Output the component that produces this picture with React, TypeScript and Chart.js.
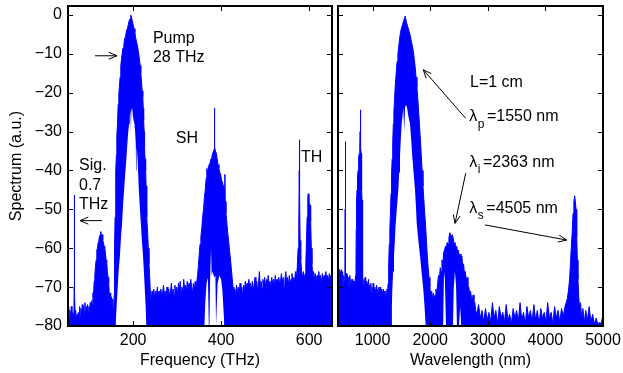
import React, { useEffect, useRef } from "react";
import { Chart, registerables } from "chart.js";

Chart.register(...registerables);

type Pt = [number, number];

// ---------------- Left panel: spectrum vs frequency (THz) ----------------
const freqTicks = [200, 400, 600];
const dbTicks = [0, -10, -20, -30, -40, -50, -60, -70, -80];

const sigFloorFreq: Pt[] = [
  [52, -76.5], [53.5, -75], [55, -78], [56.5, -76], [58, -77.5], [59.5, -75], [61, -78], [62.5, -76.5],
  [64, -77], [65.5, -75.5], [66.1, -70], [66.5, -46.3], [66.9, -71], [68, -76], [69.5, -77.5], [71, -78.5],
  [72.5, -77], [74, -78], [75.5, -76.5], [77, -78], [78.5, -75], [80, -77.5], [81.5, -75.5], [83, -77],
  [84.5, -74.5], [86, -77], [87.5, -75], [89, -76.5], [90.5, -74], [92, -76.5], [93.5, -75], [95, -77],
  [96.5, -74.5], [98, -76.5], [99.5, -75], [101, -76], [102.5, -74], [104, -75.5], [105.5, -73.5], [107, -74.5],
  [108.5, -71.5], [110, -72], [111.5, -68.5], [113, -67], [114.5, -64.5], [116, -63], [117.5, -60.5], [119, -60],
  [120.5, -58.5], [122, -58], [123.5, -57], [125, -56.5], [126.5, -55.7], [128, -57], [129.5, -56.5], [131, -58],
  [132.5, -58.5], [134, -59.5], [135.5, -60], [137, -61], [138.5, -63], [140, -63.5], [141.5, -66], [143, -67.5],
  [144.5, -69], [146, -72], [147.5, -71.5], [149, -74], [150.5, -72.5], [152, -75], [153.5, -73], [155, -75.5],
  [156.5, -74],
];

const pumpFreq: Pt[] = [
  [157, -72], [157.5, -66], [158, -60], [159, -52], [160, -45], [161, -40], [162, -36], [163, -31],
  [164.5, -28], [166, -23], [167.5, -20.5], [169, -18], [170.5, -16], [172, -13], [173.5, -11.5], [175, -10],
  [177, -8.5], [179, -7.5], [181, -6], [183, -5.5], [185, -4], [187, -3.5], [189, -2.5], [191, -1.5],
  [193, -1], [194.5, 0], [196, -0.5], [198, -1.5], [200, -2.5], [202, -3.5], [204, -4.5], [206, -6],
  [208, -7], [210, -8], [212, -9.5], [214, -11], [216, -13], [217.5, -15], [219, -17], [220.5, -19.5],
  [222, -21], [223, -24], [224, -27], [225, -30], [226, -34], [227, -37], [228.5, -40], [229.5, -44],
  [230.5, -48], [231.5, -52], [233, -56], [234.5, -60], [236, -64], [237.5, -67], [239, -71],
];

const floorMidFreq: Pt[] = [
  [241, -73.5], [243, -71], [245, -72.5], [247, -70.5], [249, -73], [251, -71], [253, -72], [255, -70],
  [257, -72.5], [259, -71], [261, -73], [263, -70.5], [265, -72], [267, -71.5], [269, -69.5], [271, -72],
  [273, -71], [275, -73], [277, -70], [279, -72], [281, -70.5], [283, -72.5], [285, -71], [287, -69],
  [289, -72], [291, -70.5], [293, -72], [295, -69.5], [297, -71.5], [299, -70], [301, -72], [303, -69],
  [305, -71], [307, -68.5], [309, -71], [311, -70], [313, -72], [315, -68], [317, -70.5], [319, -69.5],
  [321, -71.5], [323, -68.5], [325, -70.5], [327, -69], [329, -71], [331, -68], [333, -70], [335, -71.5],
  [337, -69], [339, -71], [341, -68.5], [343, -70],
];

const shFreq: Pt[] = [
  [345, -70], [346.5, -67], [348, -65], [350, -62], [352, -59], [354, -57], [356, -55], [358, -52],
  [360, -50], [362, -47], [364, -45], [366, -42], [367.5, -39.5], [369, -41], [371, -39], [373, -38.5],
  [375, -38], [377, -37], [379, -36.5], [381, -35.5], [383, -35], [384.3, -34.5], [384.8, -24], [385.4, -34],
  [387, -35], [389, -35.5], [391, -37], [393, -38.5], [395, -39.5], [397, -40.5], [399, -41], [401, -42.5],
  [403, -43], [405, -44], [407, -44.5], [408.5, -41], [409.5, -48], [411, -51], [413, -53.5], [415, -56],
  [417, -58], [419, -60.5], [421, -62.5], [423, -65], [425, -67.5], [427, -70],
];

const thFreq: Pt[] = [
  [429, -72.5], [431, -70.5], [433, -72], [435, -69.5], [437, -71.5], [439, -70], [441, -72], [443, -69],
  [445, -71], [447, -70], [449, -72.5], [451, -69.5], [453, -71], [455, -68.5], [457, -70.5], [459, -69],
  [461, -71.5], [463, -68], [465, -70], [467, -69], [469, -71], [471, -68.5], [473, -70.5], [475, -69.5],
  [477, -67.5], [479, -70], [481, -68.5], [483, -71], [485, -69], [487, -66], [489, -70], [491, -68.5],
  [493, -70.5], [495, -68], [497, -69.5], [499, -67.5], [501, -70], [503, -68], [505, -69.5], [507, -67],
  [509, -69], [511, -68.5], [513, -70], [515, -67.5], [517, -69], [519, -68], [521, -70], [523, -67],
  [525, -69], [527, -68], [529, -70], [531, -67.5], [533, -69], [535, -68.5], [537, -66.5], [539, -69],
  [541, -67.5], [543, -70], [545, -68], [547, -66], [549, -69], [551, -67.5], [553, -69.5], [555, -67],
  [557, -69], [559, -68], [561, -66.5], [563, -69], [565, -67.5], [567, -68.5], [569, -66], [571, -67.5],
  [573, -65], [575, -60], [576.5, -55], [577.5, -40], [578, -32.1], [578.5, -45], [579.5, -58], [581, -63],
  [583, -66], [585, -67.5], [587, -66], [589, -68], [591, -66.5], [592.5, -64], [594, -58], [595.5, -52],
  [597, -47], [598, -46], [599.5, -48], [601, -48.5], [602.5, -49], [603.5, -53], [605, -60], [606.5, -64],
  [608, -67], [610, -66], [612, -68], [614, -66.5], [616, -68.5], [618, -67], [620, -69], [622, -66],
  [624, -68], [626, -67], [628, -69], [630, -66.5], [632, -68], [634, -67], [636, -68.5], [638, -66],
  [640, -68], [642, -67], [644, -68.5], [646, -66.5], [648, -67.5], [650, -67], [652, -68],
];

// lower edge of the hollow pump and SH bands
const pumpHoleFreq: Pt[] = [
  [160, -80], [162, -76], [164.5, -71], [167, -66], [170, -62], [172.5, -57], [175, -53.5], [177, -49],
  [179.5, -45], [182, -41], [185, -36.5], [187, -33], [189, -30], [191, -28], [192.5, -26], [194, -24.5],
  [195, -30], [196, -24.5], [198, -24], [199.5, -26], [201, -27], [203, -28], [204.5, -30], [206, -33],
  [207, -40], [208, -34], [210, -36.5], [211.5, -41], [213, -45], [215, -49], [217.5, -53.5], [220, -58],
  [222.5, -62], [224.5, -66], [226.5, -70.5], [228.5, -75], [230, -80],
];

const shHoleFreq: Pt[] = [
  [362, -80], [364, -74], [367, -69], [370, -67.5], [372, -80], [373.5, -80], [375, -68], [377, -60],
  [378.5, -67], [381, -66], [384, -67.5], [387, -67], [388.5, -80], [390, -80], [392, -69], [396, -67],
  [400, -68], [403, -71], [405.5, -76], [407.5, -80],
];

// ---------------- Right panel: spectrum vs wavelength (nm) ----------------
const wlTicks = [1000, 2000, 3000, 4000, 5000];

const floorShortWl: Pt[] = [
  [400, -66], [410, -68], [420, -65.5], [430, -67], [440, -66], [450, -69], [460, -65.5], [470, -67.5],
  [480, -66], [490, -70], [500, -67], [510, -68.5], [520, -66], [525, -50], [527, -32.6], [529, -52],
  [535, -68], [545, -66.5], [555, -69], [565, -67], [575, -70], [585, -67.5], [595, -69.5], [605, -67],
  [615, -70], [625, -68], [635, -70.5], [645, -68], [655, -70], [665, -68.5], [675, -70], [685, -68.5],
  [695, -69], [705, -67],
];

const peak800Wl: Pt[] = [
  [712, -64.7], [716, -55], [720, -50], [724, -47.6], [730, -45], [736, -43], [741, -41.6], [748, -40],
  [755, -38], [762, -36.5], [770, -35.6], [778, -34], [784, -30], [788, -24.4], [791, -30], [796, -34],
  [801, -35.6], [805, -37], [810, -41], [814, -45], [817, -47.6], [821, -53], [825, -59], [829, -64.7],
  [833, -68],
];

const floorNirWl: Pt[] = [
  [840, -70], [850, -68], [860, -71], [870, -67.5], [880, -70], [890, -68.5], [900, -71], [910, -69],
  [920, -70.5], [930, -68], [940, -71], [950, -69.5], [960, -71.5], [970, -69], [980, -72], [990, -70],
  [1000, -71.5], [1010, -69], [1020, -71], [1030, -70], [1040, -72], [1050, -70.5], [1060, -71.5], [1070, -69.5],
  [1080, -72], [1090, -70.5], [1100, -72], [1110, -70], [1120, -71.5], [1130, -70], [1140, -72], [1150, -70.5],
  [1160, -72], [1170, -71], [1180, -72.5], [1190, -70.5], [1200, -72], [1210, -71], [1220, -72.5], [1230, -71],
  [1240, -72], [1250, -70.5], [1260, -71.5],
];

const pumpWl: Pt[] = [
  [1270, -69], [1280, -64], [1290, -59], [1300, -55], [1310, -51], [1320, -46], [1330, -41], [1340, -37],
  [1350, -33], [1360, -28], [1370, -25], [1380, -22], [1395, -18], [1410, -15], [1425, -12], [1440, -10],
  [1455, -8], [1470, -6], [1485, -4.5], [1500, -3.5], [1520, -2.5], [1540, -1.5], [1555, -0.8], [1563, -0.3],
  [1575, -1], [1590, -2], [1610, -3], [1630, -4], [1650, -5], [1670, -6.5], [1690, -8], [1710, -9.5],
  [1725, -11.5], [1740, -13.5], [1755, -16], [1770, -18.5], [1785, -21.5], [1800, -25], [1815, -28.5], [1830, -32],
  [1845, -36], [1860, -40], [1875, -44], [1890, -47.5], [1905, -51], [1920, -54], [1935, -58], [1950, -62],
  [1965, -65], [1980, -67.5], [1995, -70], [2010, -72], [2025, -71], [2040, -73], [2055, -71.5], [2070, -73],
];

const idlerWl: Pt[] = [
  [2085, -72], [2100, -70.5], [2115, -71.5], [2130, -69], [2145, -67], [2160, -68], [2175, -65], [2190, -66],
  [2205, -63], [2220, -64], [2235, -61], [2250, -60.5], [2265, -59.5], [2280, -60], [2295, -58.5], [2310, -59],
  [2325, -57.5], [2340, -56], [2355, -56.5], [2370, -57], [2385, -56.5], [2400, -57.5], [2415, -59], [2430, -58.5],
  [2445, -60], [2460, -59.5], [2475, -61], [2490, -60.5], [2505, -62], [2520, -61.5], [2535, -63], [2550, -62],
  [2565, -64.5], [2580, -64], [2595, -66.5], [2610, -66], [2625, -68], [2640, -67.5], [2655, -69.5], [2670, -70],
  [2685, -71.5], [2700, -71], [2715, -72.5], [2730, -73.5], [2745, -72], [2760, -75], [2775, -74], [2790, -76],
];

const floorMirWl: Pt[] = [
  [2810, -77], [2840, -74.5], [2870, -78], [2900, -76], [2930, -79], [2960, -75.5], [2990, -78.5], [3020, -76.5],
  [3050, -79], [3080, -74], [3110, -78], [3140, -76], [3170, -79.5], [3200, -75], [3230, -78], [3260, -76.5],
  [3290, -79], [3320, -74.5], [3350, -78.5], [3380, -77], [3410, -79.5], [3440, -75.5], [3470, -78], [3500, -76],
  [3530, -79], [3560, -74], [3590, -78.5], [3620, -76.5], [3650, -79.5], [3680, -75], [3710, -78], [3740, -76],
  [3770, -79], [3800, -74.5], [3830, -78.5], [3860, -76], [3890, -79.5], [3920, -75.5], [3950, -78], [3980, -76.5],
  [4010, -79], [4040, -74], [4070, -78], [4100, -76.5], [4130, -79.5], [4160, -75], [4190, -78], [4220, -76],
  [4250, -79], [4280, -75.5], [4310, -77.5], [4340, -75], [4360, -74], [4380, -73], [4400, -71], [4420, -68],
  [4435, -64], [4450, -59.6], [4465, -56], [4480, -51], [4495, -48], [4508, -46.5], [4520, -48], [4532, -50],
  [4540, -52], [4548, -57], [4555, -63], [4565, -68], [4578, -72], [4590, -75], [4610, -74], [4630, -78],
  [4650, -75.5], [4680, -79], [4700, -76], [4730, -78.5], [4760, -75], [4790, -79], [4820, -77], [4850, -79.5],
  [4880, -78], [4910, -79.5], [4940, -79], [4970, -79.5], [4985, -78], [4995, -74], [5000, -76],
];

const pumpHoleWl: Pt[] = [
  [1322, -80], [1335, -75], [1343, -70.7], [1357, -66], [1372, -62], [1387, -58], [1402, -53.5], [1425, -49],
  [1447, -45], [1462, -40.5], [1476, -36.4], [1490, -32], [1506, -27.8], [1520, -26], [1534, -24], [1550, -30],
  [1565, -23.5], [1580, -23], [1600, -24], [1621, -26], [1635, -27], [1650, -28], [1670, -32], [1690, -36.4],
  [1712, -40.5], [1737, -45], [1752, -49], [1766, -53.5], [1795, -58], [1824, -62], [1850, -66], [1881, -70.7],
  [1900, -74.5], [1922, -80],
];

const idlerHoleWl: Pt[] = [
  [2225, -80], [2240, -66], [2255, -68], [2275, -80], [2395, -80], [2410, -70], [2430, -66], [2450, -70],
  [2465, -80], [2500, -80], [2520, -75], [2540, -80],
];

// ---------------- styling / helpers ----------------
const FONT = '"Liberation Sans", Arial, Helvetica, sans-serif';
const BLUE = "#0000ff";

const toXY = (pts: Pt[]) => pts.map(([x, y]) => ({ x, y }));
const minus = (v: number) => String(v).replace("-", "\u2212");

type Note = { text: string; x: number; y: number; sub?: string; rest?: string };
type Arrow = { x1: number; y1: number; x2: number; y2: number };

const leftNotes: Note[] = [
  { text: "Pump", x: 245, y: -7.3 },
  { text: "28 THz", x: 245, y: -12 },
  { text: "SH", x: 297, y: -33 },
  { text: "TH", x: 581.5, y: -37.9 },
  { text: "Sig.", x: 77, y: -39.9 },
  { text: "0.7", x: 77, y: -45 },
  { text: "THz", x: 77, y: -50 },
];
const leftArrows: Arrow[] = [
  { x1: 113.4, y1: -10.5, x2: 163.4, y2: -10.5 },
  { x1: 129.3, y1: -52.9, x2: 79.3, y2: -52.9 },
];
const rightNotes: Note[] = [
  { text: "L=1 cm", x: 2691, y: -18.5 },
  { text: "\u03bb", sub: "p", rest: "=1550 nm", x: 2679, y: -27.4 },
  { text: "\u03bb", sub: "i", rest: "=2363 nm", x: 2679, y: -39 },
  { text: "\u03bb", sub: "s", rest: "=4505 nm", x: 2679, y: -50.9 },
];
const rightArrows: Arrow[] = [
  { x1: 2617, y1: -26.6, x2: 1881, y2: -14.1 },
  { x1: 2617, y1: -40.7, x2: 2431, y2: -53.6 },
  { x1: 2952, y1: -54, x2: 4370, y2: -57.9 },
];

function framePlugin(xTicks: number[], yTicks: number[]) {
  return {
    id: "frame",
    afterDatasetsDraw(chart: any) {
      const { ctx, chartArea: a, scales } = chart;
      ctx.save();
      ctx.strokeStyle = "#000";
      ctx.lineWidth = 1;
      ctx.beginPath();
      for (const v of xTicks) {
        const px = Math.round(scales.x.getPixelForValue(v)) + 0.5;
        ctx.moveTo(px, a.bottom);
        ctx.lineTo(px, a.bottom - 5);
        ctx.moveTo(px, a.top);
        ctx.lineTo(px, a.top + 5);
      }
      for (const v of yTicks) {
        const py = Math.round(scales.y.getPixelForValue(v)) + 0.5;
        ctx.moveTo(a.left, py);
        ctx.lineTo(a.left + 5, py);
        ctx.moveTo(a.right, py);
        ctx.lineTo(a.right - 5, py);
      }
      ctx.stroke();
      ctx.lineWidth = 2;
      ctx.strokeRect(a.left, a.top, a.right - a.left, a.bottom - a.top);
      ctx.restore();
    },
  };
}

function annotPlugin(notes: Note[], arrows: Arrow[]) {
  return {
    id: "annot",
    afterDraw(chart: any) {
      const { ctx, scales } = chart;
      const sx = scales.x;
      const sy = scales.y;
      ctx.save();
      ctx.fillStyle = "#000";
      ctx.strokeStyle = "#000";
      ctx.lineWidth = 1;
      ctx.textAlign = "left";
      ctx.textBaseline = "alphabetic";
      for (const n of notes) {
        let px = sx.getPixelForValue(n.x);
        const py = sy.getPixelForValue(n.y);
        ctx.font = `16px ${FONT}`;
        ctx.fillText(n.text, px, py);
        if (n.sub) {
          px += ctx.measureText(n.text).width + 0.5;
          ctx.font = `12px ${FONT}`;
          ctx.fillText(n.sub, px, py + 6.5);
          px += ctx.measureText(n.sub).width + 2.5;
          ctx.font = `16px ${FONT}`;
          ctx.fillText(n.rest || "", px, py);
        }
      }
      for (const a of arrows) {
        const x1 = sx.getPixelForValue(a.x1);
        const y1 = sy.getPixelForValue(a.y1);
        const x2 = sx.getPixelForValue(a.x2);
        const y2 = sy.getPixelForValue(a.y2);
        const ang = Math.atan2(y2 - y1, x2 - x1);
        const L = 9;
        const s = 0.4;
        ctx.beginPath();
        ctx.moveTo(x1, y1);
        ctx.lineTo(x2, y2);
        ctx.moveTo(x2 - L * Math.cos(ang - s), y2 - L * Math.sin(ang - s));
        ctx.lineTo(x2, y2);
        ctx.lineTo(x2 - L * Math.cos(ang + s), y2 - L * Math.sin(ang + s));
        ctx.stroke();
      }
      ctx.restore();
    },
  };
}

function makeConfig(opts: {
  spectrum: Pt[];
  holes: Pt[];
  xMin: number;
  xMax: number;
  xTicks: number[];
  xTitle: string;
  showY: boolean;
  padding: { left: number; right: number; top: number; bottom: number };
  notes: Note[];
  arrows: Arrow[];
}): any {
  const tickFont = { family: FONT, size: 16 };
  return {
    type: "line",
    data: {
      datasets: [
        {
          data: toXY(opts.holes),
          fill: "start",
          backgroundColor: "#ffffff",
          borderColor: "rgba(0,0,0,0)",
          borderWidth: 0,
          pointRadius: 0,
          order: 0,
        },
        {
          data: toXY(opts.spectrum),
          fill: "start",
          backgroundColor: BLUE,
          borderColor: BLUE,
          borderWidth: 1,
          pointRadius: 0,
          order: 1,
        },
      ],
    },
    options: {
      responsive: false,
      animation: false,
      events: [],
      layout: { padding: opts.padding },
      plugins: { legend: { display: false }, tooltip: { enabled: false } },
      scales: {
        x: {
          type: "linear",
          min: opts.xMin,
          max: opts.xMax,
          grid: { display: false, drawTicks: false },
          border: { display: false },
          ticks: {
            font: tickFont,
            color: "#000",
            padding: 5,
            maxRotation: 0,
            autoSkip: false,
            callback: (v: number) => String(v),
          },
          afterBuildTicks: (s: any) => {
            s.ticks = opts.xTicks.map((v) => ({ value: v }));
          },
          afterFit: (s: any) => {
            s.height = 47;
            s.paddingLeft = 0;
            s.paddingRight = 0;
          },
          title: {
            display: true,
            text: opts.xTitle,
            font: tickFont,
            color: "#000",
            padding: { top: 0, bottom: 3 },
          },
        },
        y: {
          type: "linear",
          min: -80,
          max: 2.3,
          grid: { display: false, drawTicks: false },
          border: { display: false },
          ticks: {
            display: opts.showY,
            font: tickFont,
            color: "#000",
            padding: 6,
            callback: (v: number) => minus(v),
          },
          afterBuildTicks: (s: any) => {
            s.ticks = dbTicks.map((v) => ({ value: v }));
          },
          afterFit: (s: any) => {
            s.width = opts.showY ? 68 : 0;
            s.paddingTop = 0;
            s.paddingBottom = 0;
          },
          title: {
            display: opts.showY,
            text: "Spectrum (a.u.)",
            font: tickFont,
            color: "#000",
            padding: { top: 7, bottom: 0 },
          },
        },
      },
    },
    plugins: [framePlugin(opts.xTicks, dbTicks), annotPlugin(opts.notes, opts.arrows)],
  };
}

export default function App() {
  const leftRef = useRef<HTMLCanvasElement | null>(null);
  const rightRef = useRef<HTMLCanvasElement | null>(null);

  useEffect(() => {
    const left = new Chart(
      leftRef.current as HTMLCanvasElement,
      makeConfig({
        spectrum: [...sigFloorFreq, ...pumpFreq, ...floorMidFreq, ...shFreq, ...thFreq],
        holes: [...pumpHoleFreq, ...shHoleFreq],
        xMin: 52,
        xMax: 652,
        xTicks: freqTicks,
        xTitle: "Frequency (THz)",
        showY: true,
        padding: { left: 0, right: 4, top: 6, bottom: 0 },
        notes: leftNotes,
        arrows: leftArrows,
      })
    );
    const right = new Chart(
      rightRef.current as HTMLCanvasElement,
      makeConfig({
        spectrum: [...floorShortWl, ...peak800Wl, ...floorNirWl, ...pumpWl, ...idlerWl, ...floorMirWl],
        holes: [...pumpHoleWl, ...idlerHoleWl],
        xMin: 400,
        xMax: 5000,
        xTicks: wlTicks,
        xTitle: "Wavelength (nm)",
        showY: false,
        padding: { left: 4, right: 20, top: 6, bottom: 0 },
        notes: rightNotes,
        arrows: rightArrows,
      })
    );
    return () => {
      left.destroy();
      right.destroy();
    };
  }, []);

  return (
    <div style={{ position: "fixed", left: 0, top: 0, width: 623, height: 373, background: "#fff" }}>
      <canvas
        ref={leftRef}
        width={336}
        height={373}
        style={{ position: "absolute", left: 0, top: 0, width: 336, height: 373 }}
      />
      <canvas
        ref={rightRef}
        width={289}
        height={373}
        style={{ position: "absolute", left: 334, top: 0, width: 289, height: 373 }}
      />
    </div>
  );
}
